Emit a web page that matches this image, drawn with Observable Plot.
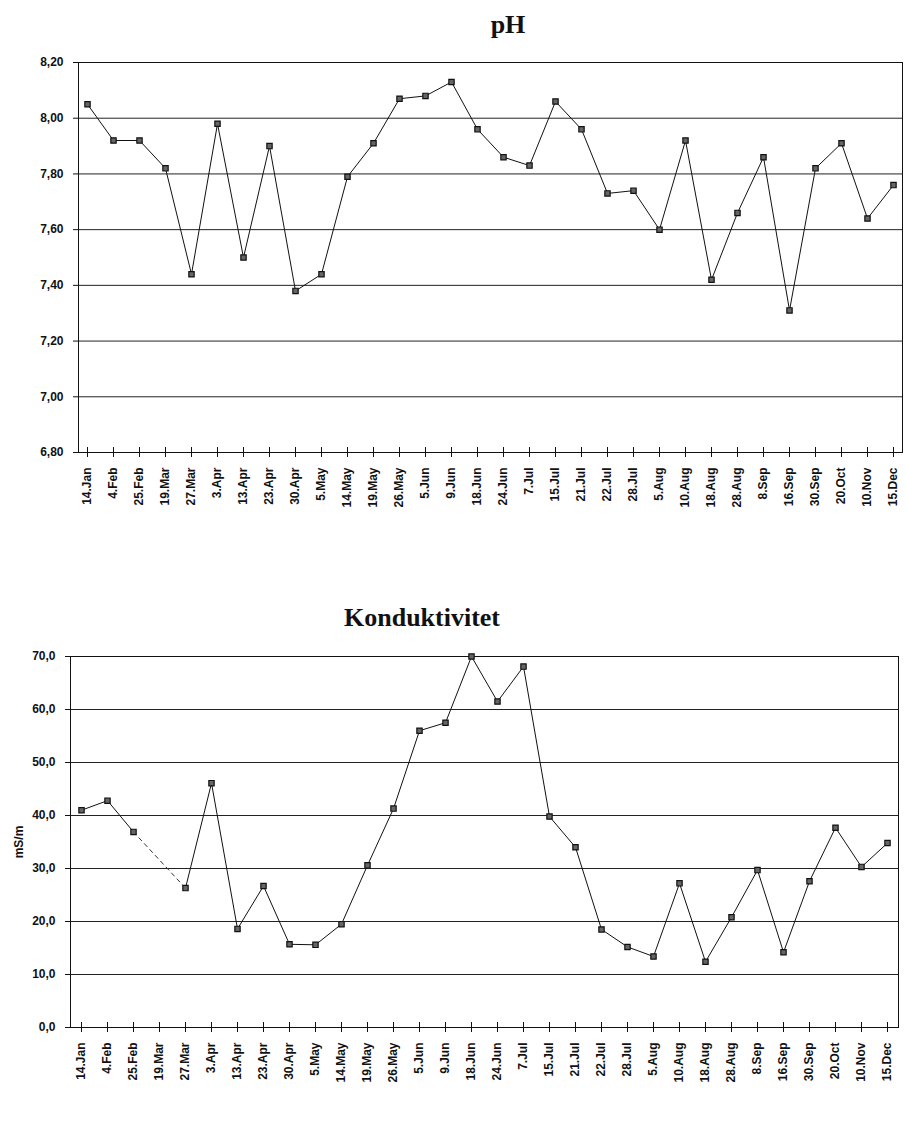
<!DOCTYPE html>
<html>
<head>
<meta charset="utf-8">
<script src="https://cdn.jsdelivr.net/npm/d3@7"></script>
<script src="https://cdn.jsdelivr.net/npm/@observablehq/plot@0.6"></script>
<style>
  html, body { margin: 0; padding: 0; background: #fff; }
  #page { position: relative; width: 906px; height: 1126px; overflow: hidden; background: #fff; }
  .title { position: absolute; font-family: "Liberation Serif", "Times New Roman", serif; font-weight: bold; font-size: 26px; color: #111; white-space: nowrap; transform: translateX(-50%); line-height: 1; }
  .chart { position: absolute; left: 0; }
</style>
</head>
<body>
<div id="page">
  <div class="title" id="t1" style="left:508px; top:12px;">pH</div>
  <div class="chart" id="c1" style="top:40px;"></div>
  <div class="title" id="t2" style="left:422px; top:605px;">Konduktivitet</div>
  <div class="chart" id="c2" style="top:640px;"></div>
</div>
<script>
const dates = ["14.Jan","4.Feb","25.Feb","19.Mar","27.Mar","3.Apr","13.Apr","23.Apr","30.Apr","5.May","14.May","19.May","26.May","5.Jun","9.Jun","18.Jun","24.Jun","7.Jul","15.Jul","21.Jul","22.Jul","28.Jul","5.Aug","10.Aug","18.Aug","28.Aug","8.Sep","16.Sep","30.Sep","20.Oct","10.Nov","15.Dec"];

const phValues = [8.05,7.92,7.92,7.82,7.44,7.98,7.50,7.90,7.38,7.44,7.79,7.91,8.07,8.08,8.13,7.96,7.86,7.83,8.06,7.96,7.73,7.74,7.60,7.92,7.42,7.66,7.86,7.31,7.82,7.91,7.64,7.76];

const condValues = [41.0,42.8,36.9,null,26.3,46.1,18.6,26.7,15.7,15.6,19.5,30.6,41.3,56.0,57.5,70.0,61.5,68.1,39.8,34.0,18.5,15.2,13.4,27.2,12.4,20.8,29.7,14.2,27.6,37.7,30.3,34.8];

const phTicks = [6.8,7.0,7.2,7.4,7.6,7.8,8.0,8.2];
const condTicks = [0,10,20,30,40,50,60,70];

const phData = dates.map((d, i) => ({date: d, value: phValues[i]}));
const condData = dates.map((d, i) => ({date: d, value: condValues[i]}));

// dashed bridge across missing conductivity samples
const bridge = [];
condData.forEach((d, i) => {
  if (d.value == null) {
    let a = i - 1, b = i + 1;
    while (a >= 0 && condData[a].value == null) a--;
    while (b < condData.length && condData[b].value == null) b++;
    if (a >= 0 && b < condData.length) bridge.push([condData[a], condData[b]]);
  }
});
const bridgeData = bridge.flatMap((pair, k) => pair.map(p => ({...p, seg: k})));

const commaFmt = (digits) => (v) => v.toFixed(digits).replace(".", ",");

const baseStyle = {fontFamily: "'Liberation Sans', Arial, sans-serif", fontSize: "12px", fontWeight: "bold", color: "#111", background: "#fff", overflow: "visible"};

function xAxes() {
  return [
    Plot.axisX({tickSize: 5, tickPadding: 10, tickRotate: -90, stroke: "#111", fill: "#111"}),
    Plot.axisX({tickSize: 5, dy: -5, tickFormat: () => "", stroke: "#111"})
  ];
}

const chart1 = Plot.plot({
  width: 906,
  height: 480,
  marginTop: 22,
  marginBottom: 68,
  marginLeft: 78,
  marginRight: 4,
  style: baseStyle,
  x: {type: "point", domain: dates, padding: 0, label: null},
  y: {domain: [6.8, 8.2], ticks: phTicks, tickFormat: commaFmt(2), label: null},
  marks: [
    Plot.gridY(phTicks, {stroke: "#222", strokeOpacity: 1, strokeWidth: 1}),
    Plot.frame({stroke: "#111", strokeWidth: 1}),
    Plot.axisY(phTicks, {tickSize: 5, tickPadding: 10, tickFormat: commaFmt(2), label: null, stroke: "#111", fill: "#111"}),
    ...xAxes(),
    Plot.line(phData, {x: "date", y: "value", stroke: "#111", strokeWidth: 1}),
    Plot.dot(phData, {x: "date", y: "value", symbol: "square", r: 3, fill: "#666", stroke: "#111", strokeWidth: 1.2})
  ]
});
document.getElementById("c1").appendChild(chart1);

const chart2 = Plot.plot({
  width: 906,
  height: 486,
  marginTop: 16,
  marginBottom: 99,
  marginLeft: 70,
  marginRight: 8,
  style: baseStyle,
  x: {type: "point", domain: dates, padding: 0, label: null},
  y: {domain: [0, 70], ticks: condTicks, tickFormat: commaFmt(1), label: null},
  marks: [
    Plot.gridY(condTicks, {stroke: "#222", strokeOpacity: 1, strokeWidth: 1}),
    Plot.frame({stroke: "#111", strokeWidth: 1}),
    Plot.axisY(condTicks, {tickSize: 5, tickPadding: 10, tickFormat: commaFmt(1), label: "mS/m", labelAnchor: "center", labelArrow: "none", labelOffset: 56, stroke: "#111", fill: "#111"}),
    ...xAxes(),
    Plot.line(bridgeData, {x: "date", y: "value", z: "seg", stroke: "#333", strokeWidth: 1, strokeDasharray: "4,4"}),
    Plot.line(condData, {x: "date", y: "value", stroke: "#111", strokeWidth: 1}),
    Plot.dot(condData.filter(d => d.value != null), {x: "date", y: "value", symbol: "square", r: 3, fill: "#666", stroke: "#111", strokeWidth: 1.2})
  ]
});
document.getElementById("c2").appendChild(chart2);
</script>
</body>
</html>
